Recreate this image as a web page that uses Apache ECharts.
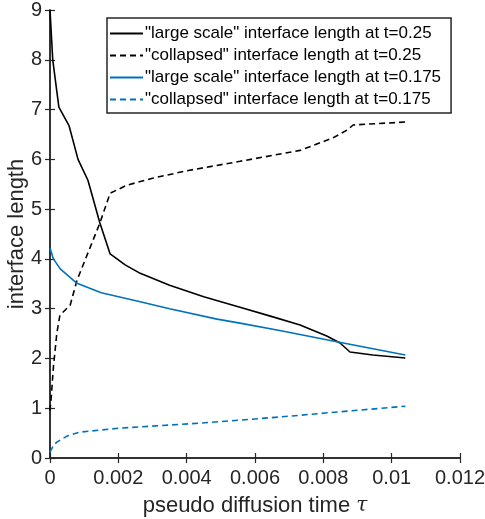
<!DOCTYPE html>
<html>
<head>
<meta charset="utf-8">
<script src="https://cdn.jsdelivr.net/npm/echarts@6/dist/echarts.min.js"></script>
<style>
  html, body { margin: 0; padding: 0; background: #fff; }
  #chart { width: 485px; height: 519px; }
</style>
</head>
<body>
<div id="chart"></div>
<script>
// data
const largeX025 = [0, 0.00008, 0.00026, 0.00056, 0.00082, 0.00111, 0.00146, 0.00176, 0.0022, 0.00264, 0.0035, 0.0045, 0.00556, 0.0065, 0.00732, 0.0081, 0.00849, 0.00878, 0.00945, 0.0104];
const largeY025 = [9.0, 8.0, 7.05, 6.67, 6.0, 5.58, 4.72, 4.1, 3.88, 3.71, 3.47, 3.24, 3.03, 2.84, 2.67, 2.45, 2.31, 2.13, 2.07, 2.01];

const collX025 = [0, 0.00003, 0.0001, 0.0002, 0.00029, 0.00059, 0.00079, 0.00146, 0.00176, 0.00225, 0.003, 0.004, 0.00556, 0.00732, 0.00828, 0.0087, 0.00887, 0.0104];
const collY025 = [0.95, 1.16, 1.83, 2.51, 2.87, 3.07, 3.57, 4.72, 5.32, 5.48, 5.62, 5.77, 5.96, 6.18, 6.43, 6.59, 6.69, 6.75];

const largeX0175 = [0, 0.0001, 0.0003, 0.00079, 0.0015, 0.00264, 0.0035, 0.00489, 0.00556, 0.0068, 0.00828, 0.0104];
const largeY0175 = [4.22, 4.0, 3.8, 3.51, 3.32, 3.14, 3.0, 2.79, 2.71, 2.55, 2.35, 2.07];

const collX0175 = [0, 0.0001, 0.0002, 0.0005, 0.00088, 0.00205, 0.0044, 0.00556, 0.007, 0.0085, 0.0104];
const collY0175 = [0.12, 0.25, 0.32, 0.44, 0.52, 0.6, 0.7, 0.76, 0.84, 0.93, 1.04];

const names = [
  '"large scale" interface length at t=0.25',
  '"collapsed" interface length at t=0.25',
  '"large scale" interface length at t=0.175',
  '"collapsed" interface length at t=0.175'
];

const pairs = (xs, ys) => xs.map((x, i) => [x, ys[i]]);

const axisColor = '#262626';
const font = 'Liberation Sans, Arial, sans-serif';

const chart = echarts.init(document.getElementById('chart'));

const mkLine = (name, data, color, dashed) => ({
  name: name,
  type: 'line',
  data: data,
  showSymbol: false,
  symbol: 'none',
  animation: false,
  lineStyle: { color: color, width: 1.6, type: dashed ? [6, 4] : 'solid' },
  itemStyle: { color: color }
});

// box axes with inward ticks, like matlab
const tickStyle = { show: true, inside: true, length: 5, lineStyle: { color: axisColor, width: 1.2 } };
const lineStyle = { show: true, lineStyle: { color: axisColor, width: 1.5 } };

chart.setOption({
  backgroundColor: '#fff',
  grid: { left: 50, right: 25, top: 10, bottom: 61, containLabel: false, outerBoundsMode: 'none' },
  legend: {
    orient: 'vertical',
    left: 107,
    top: 18,
    padding: [7, 10, 5, 2],
    itemWidth: 33,
    itemHeight: 14,
    itemGap: 5,
    borderColor: axisColor,
    borderWidth: 1.5,
    backgroundColor: '#fff',
    itemStyle: { opacity: 0 },
    textStyle: { fontFamily: font, fontSize: 17, color: '#000', padding: [0, 0, 0, -3] },
    data: names
  },
  xAxis: [
    {
      type: 'value',
      min: 0,
      max: 0.012,
      interval: 0.002,
      name: 'pseudo diffusion time {i|τ}',
      nameLocation: 'middle',
      nameGap: 37,
      nameMoveOverlap: false,
      nameTextStyle: {
        fontFamily: font, fontSize: 22, color: axisColor,
        rich: { i: { fontFamily: 'DejaVu Serif, serif', fontStyle: 'italic', fontSize: 20, color: axisColor } }
      },
      axisLine: lineStyle,
      axisTick: tickStyle,
      axisLabel: { fontFamily: font, fontSize: 20, color: axisColor, margin: 10,
        formatter: v => (v === 0 ? '0' : String(+v.toFixed(3))) },
      splitLine: { show: false }
    },
    {
      type: 'value',
      position: 'top',
      min: 0,
      max: 0.012,
      interval: 0.002,
      axisLine: lineStyle,
      axisTick: tickStyle,
      axisLabel: { show: false },
      splitLine: { show: false }
    }
  ],
  yAxis: [
    {
      type: 'value',
      min: 0,
      max: 9,
      interval: 1,
      name: 'interface length',
      nameLocation: 'middle',
      nameGap: 22,
      nameMoveOverlap: false,
      nameTextStyle: { fontFamily: font, fontSize: 22, color: axisColor },
      axisLine: lineStyle,
      axisTick: tickStyle,
      axisLabel: { fontFamily: font, fontSize: 20, color: axisColor, margin: 8 },
      splitLine: { show: false }
    },
    {
      type: 'value',
      position: 'right',
      min: 0,
      max: 9,
      interval: 1,
      axisLine: lineStyle,
      axisTick: tickStyle,
      axisLabel: { show: false },
      splitLine: { show: false }
    }
  ],
  series: [
    mkLine(names[0], pairs(largeX025, largeY025), '#000000', false),
    mkLine(names[1], pairs(collX025, collY025), '#000000', true),
    mkLine(names[2], pairs(largeX0175, largeY0175), '#0072BD', false),
    mkLine(names[3], pairs(collX0175, collY0175), '#0072BD', true)
  ]
});
</script>
</body>
</html>
